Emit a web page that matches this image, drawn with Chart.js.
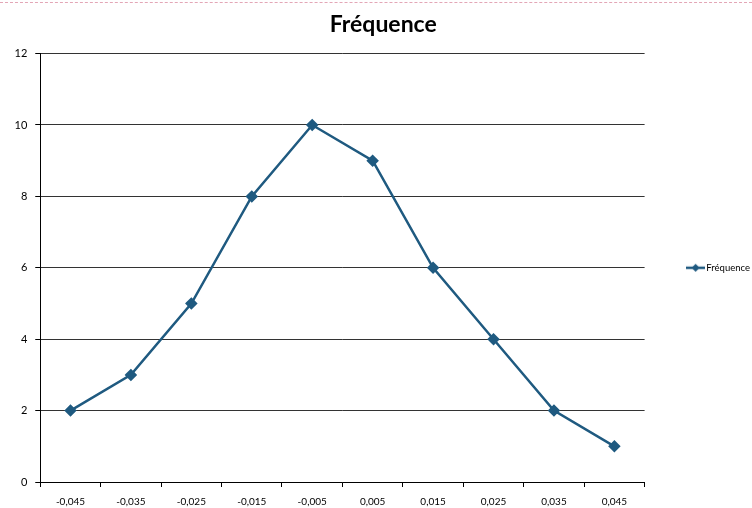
<!DOCTYPE html>
<html>
<head>
<meta charset="utf-8">
<script src="https://cdn.jsdelivr.net/npm/chart.js@4"></script>
<style>
  body { margin: 0; background: #fff; }
  #wrap { position: relative; width: 752px; height: 508px; }
  #wrap:before { content: ""; position: absolute; left: 0; right: 0; top: 2px; border-top: 1px dashed #e3a6b6; }
</style>
</head>
<body>
<div id="wrap"><canvas id="myChart" width="752" height="508"></canvas></div>
<script>
const LINE_COLOR = '#1f5a80';

var labels = ['-0,045', '-0,035', '-0,025', '-0,015', '-0,005', '0,005', '0,015', '0,025', '0,035', '0,045'];
var freqData = [2, 3, 5, 8, 10, 9, 6, 4, 2, 1];
var yTicks = [0, 2, 4, 6, 8, 10, 12];

function legendMarker(){ // small line with a diamond, like the excel legend
    var c = document.createElement('canvas');
    c.width = 19;
    c.height = 10;
    var g = c.getContext('2d');
    g.strokeStyle = LINE_COLOR;
    g.lineWidth = 2.5;
    g.beginPath();
    g.moveTo(0, 5);
    g.lineTo(19, 5);
    g.stroke();
    g.fillStyle = LINE_COLOR;
    g.beginPath();
    g.moveTo(9.5, 1);
    g.lineTo(13.5, 5);
    g.lineTo(9.5, 9);
    g.lineTo(5.5, 5);
    g.closePath();
    g.fill();
    return c;
}

Chart.defaults.font.family = 'Lato, "DejaVu Sans", sans-serif';
Chart.defaults.color = '#000';

const CTX = document.getElementById('myChart').getContext('2d');
const CONFIG = {
    type: 'line',
    data: {
        labels: labels,
        datasets: [{
            label: 'Fréquence',
            data: freqData,
            fill: false,
            borderColor: LINE_COLOR,
            backgroundColor: LINE_COLOR,
            borderWidth: 2.5,
            tension: 0,
            pointStyle: 'rectRot',
            pointRadius: 4.5,
            pointHoverRadius: 4.5
        }]
    },
    options: {
        responsive: false,
        animation: false,
        layout: {
            padding: { left: 6.5, right: -8, top: 4, bottom: -9 }
        },
        plugins: {
            title: {
                display: true,
                text: 'Fréquence',
                font: { size: 23, weight: 'bold' },
                color: '#000',
                padding: { top: 7, bottom: 15 }
            },
            legend: {
                position: 'right',
                fullSize: false,
                labels: {
                    usePointStyle: true,
                    pointStyle: legendMarker(),
                    pointStyleWidth: 12,
                    padding: 45,
                    font: { size: 9.5 },
                    color: '#000'
                }
            },
            tooltip: { enabled: false }
        },
        scales: {
            x: {
                offset: true,
                grid: {
                    offset: true,
                    drawOnChartArea: false,
                    drawTicks: true,
                    tickLength: 5,
                    color: '#000'
                },
                border: { display: true, color: '#000', width: 1 },
                ticks: { font: { size: 10 }, padding: 9, maxRotation: 0, autoSkip: false }
            },
            y: {
                min: 0,
                max: 12,
                afterBuildTicks: function(axis){
                    axis.ticks = yTicks.map(v => ({ value: v }));
                },
                grid: {
                    color: '#333',
                    drawTicks: true,
                    tickLength: 5,
                    tickColor: '#000'
                },
                border: { display: true, color: '#000', width: 1 },
                ticks: { font: { size: 11 }, padding: 8 }
            }
        }
    }
};

var myChart = new Chart(CTX, CONFIG);
</script>
</body>
</html>
